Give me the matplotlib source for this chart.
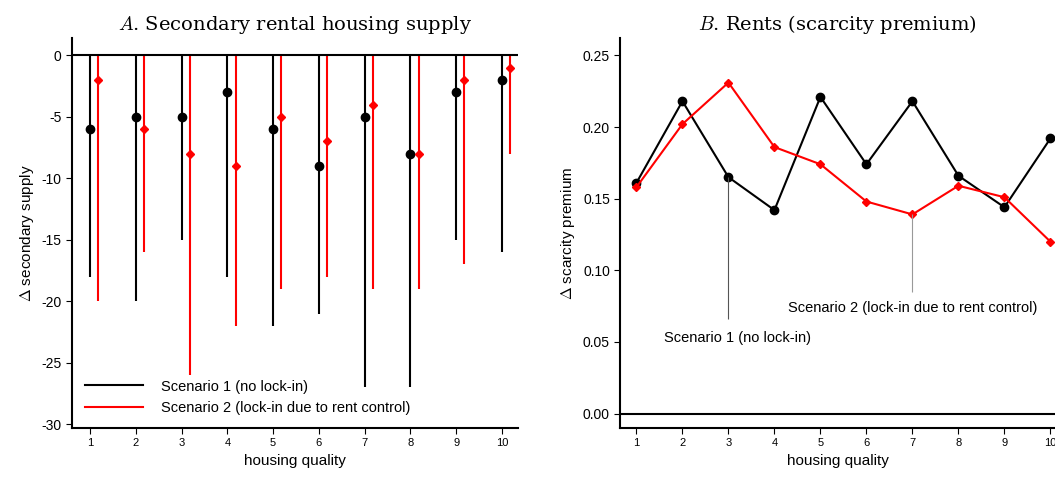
import matplotlib
matplotlib.use("Agg")
import matplotlib.pyplot as plt
import numpy as np

plt.rcParams['font.family'] = ['Liberation Sans', 'DejaVu Sans']
plt.rcParams['mathtext.fontset'] = 'cm'
plt.rcParams['axes.unicode_minus'] = False

quality = np.arange(1, 11)

# panel A: point estimate and lower end of the interval
s1_supply = [-6, -5, -5, -3, -6, -9, -5, -8, -3, -2]
s1_low = [-18, -20, -15, -18, -22, -21, -27, -27, -15, -16]
s2_supply = [-2, -6, -8, -9, -5, -7, -4, -8, -2, -1]
s2_low = [-20, -16, -26, -22, -19, -18, -19, -19, -17, -8]

# panel B: scarcity premium
s1_rent = [0.161, 0.218, 0.165, 0.142, 0.221, 0.174, 0.218, 0.166, 0.144, 0.192]
s2_rent = [0.158, 0.202, 0.231, 0.186, 0.174, 0.148, 0.139, 0.159, 0.151, 0.120]

fig = plt.figure(figsize=(10.55, 4.83), dpi=100)
ax1 = fig.add_axes([0.068, 0.114, 0.423, 0.807])
ax2 = fig.add_axes([0.588, 0.114, 0.412, 0.807])

def style(ax):
    ax.spines['top'].set_visible(False)
    ax.spines['right'].set_visible(False)
    ax.spines['left'].set_linewidth(1.5)
    ax.spines['bottom'].set_linewidth(1.5)
    ax.tick_params(axis='x', labelsize=8, length=4)
    ax.tick_params(axis='y', labelsize=10, length=4)
    ax.set_xticks(quality)
    ax.set_xlabel("housing quality", fontsize=11)

# --- Panel A
off = 0.18
ax1.vlines(quality, s1_low, 0, color='black', lw=1.5)
ax1.vlines(quality + off, s2_low, 0, color='red', lw=1.5)
ax1.plot(quality, s1_supply, 'o', color='black', ms=6)
ax1.plot(quality + off, s2_supply, 'D', color='red', ms=4.5)
ax1.axhline(0, color='black', lw=1.5)
ax1.set_xlim(0.6, 10.35)
ax1.set_ylim(-30.3, 1.4)
ax1.set_yticks(np.arange(-30, 1, 5))
ax1.set_ylabel(r"$\Delta$ secondary supply", fontsize=11)
ax1.plot([], [], color='black', lw=1.5, label="Scenario 1 (no lock-in)")
ax1.plot([], [], color='red', lw=1.5, label="Scenario 2 (lock-in due to rent control)")
ax1.legend(loc='lower left', frameon=False, fontsize=10.5, handlelength=4.0,
           handletextpad=1.2, bbox_to_anchor=(0.0, 0.0))
ax1.set_title(r"$\mathit{A}$. Secondary rental housing supply", fontsize=14,
              family='DejaVu Serif', math_fontfamily='cm')
style(ax1)

# --- Panel B
ax2.plot(quality, s1_rent, '-o', color='black', ms=6, lw=1.5)
ax2.plot(quality, s2_rent, '-D', color='red', ms=4.5, lw=1.5)
ax2.axhline(0, color='black', lw=1.5)
ax2.vlines(3, 0.066, s1_rent[2], color='#555555', lw=0.8)
ax2.vlines(7, 0.085, s2_rent[6], color='#999999', lw=0.8)
ax2.text(3.2, 0.053, "Scenario 1 (no lock-in)", ha='center', va='center', fontsize=10.5)
ax2.text(7.0, 0.074, "Scenario 2 (lock-in due to rent control)", ha='center', va='center', fontsize=10.5)
ax2.set_xlim(0.65, 10.1)
ax2.set_ylim(-0.01, 0.262)
ax2.set_yticks(np.arange(0, 0.26, 0.05))
ax2.set_yticklabels([f"{v:.2f}" for v in np.arange(0, 0.26, 0.05)])
ax2.set_ylabel(r"$\Delta$ scarcity premium", fontsize=11)
ax2.set_title(r"$\mathit{B}$. Rents (scarcity premium)", fontsize=14,
              family='DejaVu Serif', math_fontfamily='cm')
style(ax2)

fig.savefig("out.png", dpi=100)
